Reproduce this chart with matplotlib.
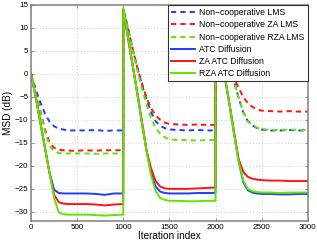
import numpy as np
import matplotlib
matplotlib.use("Agg")
import matplotlib.pyplot as plt

plt.rcParams['font.family'] = ['Liberation Sans', 'DejaVu Sans']

# iteration knots (three 1000-iteration blocks)
it = [0, 50, 100, 150, 200, 250, 300, 350, 400, 500, 600, 700, 800, 900, 999,
      1000, 1050, 1100, 1150, 1200, 1250, 1300, 1350, 1400, 1450, 1500, 1600, 1700, 1800, 1900, 1999,
      2000, 2050, 2100, 2150, 2200, 2250, 2300, 2350, 2400, 2450, 2500, 2600, 2700, 2800, 2900, 3000]

# MSD in dB
lms = [0, -3.3, -6.2, -8.6, -10.4, -11.4, -11.9, -12.1, -12.3, -12.3, -12.3, -12.2, -12.4, -12.3, -12.3,
       14, 10, 5.5, 1.5, -2.2, -5.5, -8.3, -10.3, -11.3, -11.8, -12.1, -12.2, -12.3, -12.2, -12.3, -12.3,
       14, 10, 6, 1.8, -1.7, -5.2, -8.3, -10.3, -11.2, -11.8, -12.1, -12.3, -12.3, -12.2, -12.3, -12.3]
za_lms = [0, -4, -8, -12, -15, -16.1, -16.5, -16.6, -16.7, -16.7, -16.6, -16.7, -16.6, -16.6, -16.6,
          14, 10, 5.5, 1.5, -2, -5, -7.5, -9, -10, -10.6, -10.9, -11.0, -11.1, -11.0, -11.1, -11.1,
          14, 10, 5.8, 1.8, -1, -3, -5, -6.4, -7.2, -7.7, -8.0, -8.1, -8.2, -8.1, -8.2, -8.2]
rza_lms = [0, -4.2, -8.3, -12.5, -15.6, -16.8, -17.2, -17.3, -17.3, -17.3, -17.3, -17.4, -17.3, -17.3, -17.3,
           14, 9.8, 5.2, 1, -3, -6.5, -9.5, -11.8, -13, -13.8, -14.2, -14.4, -14.4, -14.5, -14.4, -14.4,
           14, 10, 6, 1.8, -1.7, -5.2, -8.2, -10.2, -11.1, -11.7, -12.0, -12.2, -12.2, -12.1, -12.2, -12.2]
atc = [0, -5, -10.5, -16, -21.5, -25.2, -25.9, -26.0, -26.0, -26.0, -26.0, -26.1, -26.3, -26.0, -26.0,
       14, 8, 2, -4, -10.5, -16.5, -21.5, -24.5, -25.6, -25.9, -26.0, -26.0, -26.0, -25.9, -25.9, -25.9,
       15, 6, -0.6, -6.5, -13, -19, -23.5, -25.3, -25.8, -26.0, -26.1, -26.1, -26.2, -26.2, -26.1, -26.1]
za_atc = [0, -5, -10.5, -16, -21.5, -26.3, -27.9, -28.2, -28.3, -28.3, -28.3, -28.4, -28.6, -28.4, -28.3,
          14, 8, 2, -4, -10, -16.5, -20.5, -23.3, -24.5, -24.9, -25.0, -25.0, -25.0, -24.9, -24.8, -24.7,
          15, 6, -0.6, -6.5, -12.5, -18.5, -21.3, -22.4, -22.8, -23.0, -23.1, -23.2, -23.2, -23.3, -23.3, -23.3]
rza_atc = [0, -5, -10.5, -16, -21.5, -27, -30.1, -30.5, -30.6, -30.6, -30.6, -30.7, -30.8, -30.7, -30.6,
           14.3, 8, 2, -4, -10.5, -16.5, -22, -25.5, -27.0, -27.4, -27.6, -27.6, -27.7, -27.7, -27.6, -27.6,
           15, 6, -0.6, -6.5, -13, -19, -23.2, -25.0, -25.5, -25.7, -25.8, -25.8, -25.9, -25.8, -25.8, -25.8]

labels = ["Non\u2212cooperative LMS", "Non\u2212cooperative ZA LMS", "Non\u2212cooperative RZA LMS",
          "ATC Diffusion", "ZA ATC Diffusion", "RZA ATC Diffusion"]

blue, red, green = "#1f3cff", "#ff1414", "#5fe600"

fig = plt.figure(figsize=(3.17, 2.44), dpi=100)
ax = fig.add_axes([0.098, 0.094, 0.873, 0.886])

lw = 1.4
for y, c, lab in zip([lms, za_lms, rza_lms], [blue, red, green], labels[:3]):
    ax.plot(it, y, color=c, lw=lw, dashes=(2.7, 2.1), label=lab)
for y, c, lab in zip([atc, za_atc, rza_atc], [blue, red, green], labels[3:]):
    ax.plot(it, y, color=c, lw=lw, label=lab)

ax.set_xlim(0, 3000)
ax.set_ylim(-32, 15)
ax.set_xticks(np.arange(0, 3001, 500))
ax.set_yticks(np.arange(-30, 16, 5))
ax.grid(True, color="#c0c0c0", linestyle=(0, (1, 2.5)), linewidth=0.6)
ax.tick_params(direction="in", length=2.5, width=0.6, color="#808080",
               top=True, right=True, labelsize=5.8, pad=2)
for s in ax.spines.values():
    s.set_color("#808080")
    s.set_linewidth(1.1)

ax.set_xlabel("Iteration index", fontsize=7.2, labelpad=0)
ax.set_ylabel("MSD (dB)", fontsize=7.2, labelpad=1)

leg = ax.legend(loc="upper right", fontsize=6.2, frameon=True, fancybox=False,
                borderaxespad=0, handlelength=2.7, labelspacing=0.36,
                handletextpad=0.5, borderpad=0.4)
leg.get_frame().set_edgecolor("#333333")
leg.get_frame().set_linewidth(0.8)
leg.get_frame().set_alpha(1)

fig.savefig("out.png", dpi=100)
